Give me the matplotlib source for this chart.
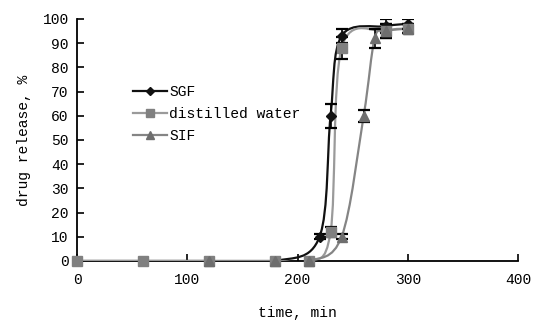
import matplotlib
matplotlib.use("Agg")
import matplotlib.pyplot as plt
from matplotlib.path import Path
import matplotlib.patches as patches

plt.rcParams['font.family'] = ['Liberation Mono', 'DejaVu Sans']

# data
sgf_t = [0, 60, 120, 180, 220, 230, 240, 280, 300]
sgf_v = [0, 0, 0, 0, 10, 60, 93, 97, 98]
sgf_e = [0, 0, 0, 0, 1, 5, 3, 3, 2]

water_t = [0, 60, 120, 180, 210, 230, 240, 280, 300]
water_v = [0, 0, 0, 0, 0, 12, 88, 95, 96]
water_e = [0, 0, 0, 0, 0, 2, 4.5, 3, 2]

sif_t = [120, 180, 210, 240, 260, 270, 280, 300]
sif_v = [0, 0, 0, 10, 60, 92, 95, 96]
sif_e = [0, 0, 0, 1, 2.5, 4, 3, 2]

x_ticks = [0, 100, 200, 300, 400]
y_ticks = list(range(0, 101, 10))


def smooth_path(xs, ys):
    # excel-like smoothed line: cubic bezier, control points from neighbours
    pts = list(zip(xs, ys))
    verts = [pts[0]]
    codes = [Path.MOVETO]
    n = len(pts)
    for i in range(n - 1):
        p0 = pts[i - 1] if i > 0 else pts[i]
        p1 = pts[i]
        p2 = pts[i + 1]
        p3 = pts[i + 2] if i + 2 < n else pts[i + 1]
        c1 = (p1[0] + (p2[0] - p0[0]) / 6, p1[1] + (p2[1] - p0[1]) / 6)
        c2 = (p2[0] - (p3[0] - p1[0]) / 6, p2[1] - (p3[1] - p1[1]) / 6)
        verts += [c1, c2, p2]
        codes += [Path.CURVE4] * 3
    return Path(verts, codes)


fig = plt.figure(figsize=(5.36, 3.21), dpi=100)
ax = fig.add_axes([0.1437, 0.187, 0.8227, 0.754])

series = [
    (sgf_t, sgf_v, sgf_e, '#111111', '#111111', 'D', 5.5, 'SGF'),
    (water_t, water_v, water_e, '#9a9a9a', '#808080', 's', 6.5, 'distilled water'),
    (sif_t, sif_v, sif_e, '#858585', '#6e6e6e', '^', 6.5, 'SIF'),
]

handles = []
for t, v, e, lc, mc, mk, ms, lab in series:
    ax.add_patch(patches.PathPatch(smooth_path(t, v), facecolor='none',
                                   edgecolor=lc, lw=1.6, zorder=3))
    et = [a for a, b in zip(t, e) if b > 0]
    ev = [a for a, b in zip(v, e) if b > 0]
    ee = [b for b in e if b > 0]
    ax.errorbar(et, ev, yerr=ee, fmt='none', ecolor='black', elinewidth=1.2,
                capsize=4, capthick=1.6, zorder=4)
    ax.plot(t, v, linestyle='none', marker=mk, markersize=ms, color=mc,
            markeredgecolor=mc, zorder=5, clip_on=False)
    h, = ax.plot([], [], color=lc, lw=1.6, marker=mk, markersize=ms - 1,
                 markerfacecolor=mc, markeredgecolor=mc, label=lab)
    handles.append(h)

ax.set_xlim(0, 400)
ax.set_ylim(0, 100)
ax.set_xticks(x_ticks)
ax.set_yticks(y_ticks)
ax.tick_params(direction='in', length=5, width=1.2, labelsize=10.5,
               colors='black')
ax.tick_params(axis='x', pad=9)
ax.tick_params(axis='y', pad=6)
ax.spines['top'].set_visible(False)
ax.spines['right'].set_visible(False)
ax.spines['left'].set_linewidth(1.3)
ax.spines['bottom'].set_linewidth(1.3)

ax.set_xlabel('time, min', fontsize=10.5, labelpad=13)
ax.set_ylabel('drug release, %', fontsize=10.5, labelpad=8)

ax.legend(handles=handles, loc='upper left', bbox_to_anchor=(0.127, 0.727),
          frameon=False, fontsize=10.5, handlelength=2.3, handletextpad=0.2,
          labelspacing=0.55, borderpad=0, borderaxespad=0)

fig.savefig('out.png', dpi=100)
